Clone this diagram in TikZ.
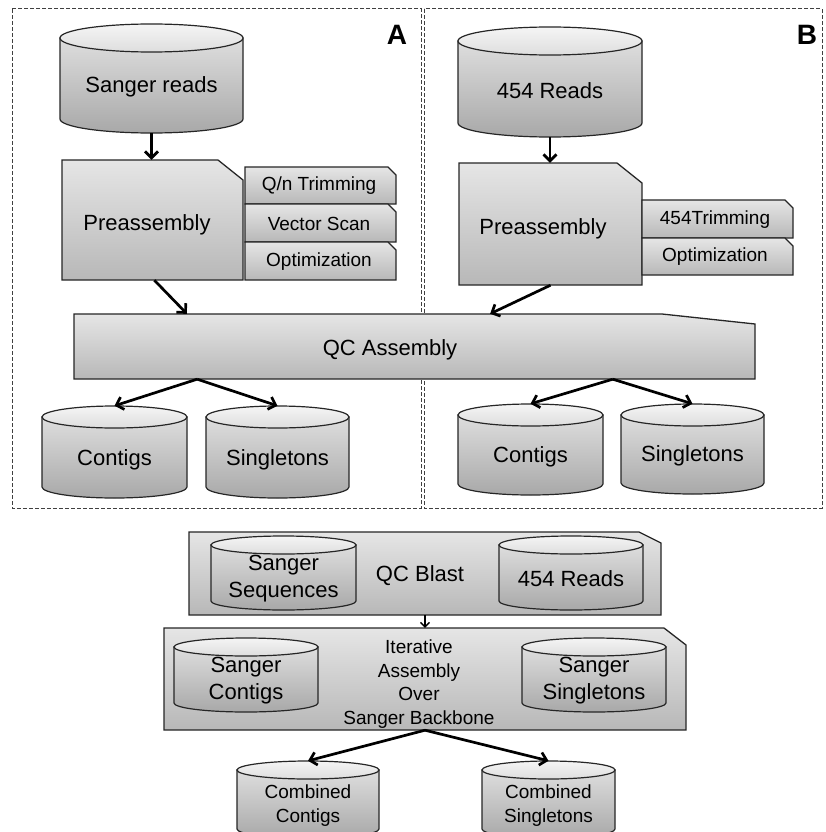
\documentclass[tikz,border=0pt]{standalone}
\usepackage{fontspec}
\setmainfont{Liberation Sans}
\usetikzlibrary{arrows.meta,calc}
\tikzset{
 every node/.style={inner sep=0pt, align=center, text=black},
 bigtxt/.style={font=\fontsize{22}{27}\selectfont},
 midtxt/.style={font=\fontsize{19}{23.5}\selectfont},
 paneltxt/.style={font=\fontsize{28}{30}\selectfont\bfseries},
 frame/.style={draw=black!75, line width=1pt, dash pattern=on 4pt off 2pt},
 boxfill/.style={draw=black!85, line width=1.3pt, top color=black!10, bottom color=black!28},
 cylbody/.style={draw=black!85, line width=1.2pt, top color=black!13, bottom color=black!34},
 cyltop/.style={draw=black!85, line width=1.2pt, top color=black!4, bottom color=black!13},
 arr/.style={line width=2.7pt, -{Straight Barb[length=6.5pt,width=13pt]}},
 smallarr/.style={line width=1.3pt, -{Straight Barb[length=4.5pt,width=9pt]}}
}
% cylinder: name, x1, ytop, x2, ybottom, ry, text style, text
\newcommand\dbcyl[8]{%
  \pgfmathsetmacro\cylcx{(#2+#4)/2}%
  \pgfmathsetmacro\cylrx{(#4-#2)/2}%
  \pgfmathsetmacro\cylw{#4-#2}%
  \pgfmathsetmacro\cylh{#5-#3}%
  \pgfmathsetmacro\cylty{#3+0.58*(#5-#3)}%
  \path[cylbody] (#2,#3+#6) -- (#2,#5-#6) arc[start angle=180,end angle=360,x radius=\cylrx pt,y radius=#6pt] -- (#4,#3+#6) -- cycle;
  \path[cyltop] (\cylcx,#3+#6) ellipse[x radius=\cylrx pt,y radius=#6pt];
  \node[minimum width=\cylw pt, minimum height=\cylh pt] (#1) at (\cylcx,{(#3+#5)/2}) {};
  \node[#7] (#1-t) at (\cylcx,\cylty) {#8};
}
% box with cut corner: name, x1, y1, x2, y2, cutx, cuty
\newcommand\cutbox[7]{%
  \path[boxfill] (#2,#3) -- (#4-#6,#3) -- (#4,#3+#7) -- (#4,#5) -- (#2,#5) -- cycle;
  \pgfmathsetmacro\cbw{#4-#2}%
  \pgfmathsetmacro\cbh{#5-#3}%
  \node[minimum width=\cbw pt, minimum height=\cbh pt] (#1) at ({(#2+#4)/2},{(#3+#5)/2}) {};
}
\begin{document}
\begin{tikzpicture}[x=1pt,y=-1pt]
\useasboundingbox (0,0) rectangle (825,832);
\fill[white] (0,0) rectangle (825,832);

% panel frames
\draw[frame] (12,9) rectangle (421,508);
\draw[frame] (424,9) rectangle (822,508);
\node[paneltxt] (lblA) at (397,35) {A};
\node[paneltxt] (lblB) at (807,35) {B};

% panel A
\dbcyl{sr}{60}{24}{243}{133}{14}{bigtxt}{Sanger reads}
\cutbox{preA}{62}{160}{243}{280}{25}{20}
\node[bigtxt] (preA-t) at (147,225) {Preassembly};
\cutbox{tA1}{245}{167}{396}{204}{8}{8}
\node[midtxt] (tA1-t) at (319,186) {Q/n Trimming};
\cutbox{tA2}{245}{204}{396}{242}{8}{8}
\node[midtxt] (tA2-t) at (319,224) {Vector Scan};
\cutbox{tA3}{245}{242}{396}{280}{8}{8}
\node[midtxt] (tA3-t) at (319,262) {Optimization};

% panel B
\dbcyl{rb}{458}{27}{642}{137}{14}{bigtxt}{454 Reads}
\cutbox{preB}{459}{163}{642}{285}{25}{20}
\node[bigtxt] (preB-t) at (543,229) {Preassembly};
\cutbox{tB1}{642}{200}{793}{238}{8}{8}
\node[midtxt] (tB1-t) at (715,220) {454Trimming};
\cutbox{tB2}{642}{238}{793}{275}{8}{8}
\node[midtxt] (tB2-t) at (715,257) {Optimization};

% QC assembly
\cutbox{qc}{74}{314}{755}{379}{93}{10}
\node[bigtxt] (qc-t) at (390,350) {QC Assembly};

\dbcyl{contA}{42}{406}{187}{498}{11}{bigtxt}{Contigs}
\dbcyl{singA}{206}{406}{349}{498}{11}{bigtxt}{Singletons}
\dbcyl{contB}{458}{404}{603}{495}{11}{bigtxt}{Contigs}
\dbcyl{singB}{621}{404}{764}{494}{11}{bigtxt}{Singletons}

% bottom part
\cutbox{blast}{189}{532}{661}{615}{22}{11}
\node[bigtxt] (blast-t) at (420,576) {QC Blast};
\dbcyl{sseq}{211}{536}{356}{610}{9}{bigtxt}{Sanger\\Sequences}
\dbcyl{rc}{499}{536}{643}{610}{9}{bigtxt}{454 Reads}

\cutbox{iter}{164}{628}{686}{730}{22}{17}
\node[midtxt] (iter-t) at (419,684) {Iterative\\Assembly\\Over\\Sanger Backbone};
\dbcyl{scont}{174}{638}{318}{712}{9}{bigtxt}{Sanger\\Contigs}
\dbcyl{ssing}{522}{638}{666}{712}{9}{bigtxt}{Sanger\\Singletons}

\dbcyl{combC}{237}{761}{379}{838}{9}{midtxt}{Combined\\Contigs}
\dbcyl{combS}{482}{761}{615}{838}{9}{midtxt}{Combined\\Singletons}

% connectors
\draw[arr] (sr.south) -- (sr.south |- preA.north);
\draw[arr] (rb.south) -- (rb.south |- preB.north);
\draw[arr] ($(preA.south west)!0.51!(preA.south east)$) -- ($(qc.north west)!0.166!(qc.north east)$);
\draw[arr] (preB.south) -- ($(qc.north west)!0.611!(qc.north east)$);
\draw[arr] ($(qc.south west)!0.181!(qc.south east)$) -- (contA.north);
\draw[arr] ($(qc.south west)!0.181!(qc.south east)$) -- (singA.north);
\draw[arr] ($(qc.south west)!0.791!(qc.south east)$) -- (contB.north);
\draw[arr] ($(qc.south west)!0.791!(qc.south east)$) -- (singB.north);
\draw[smallarr] (blast.south) -- (iter.north);
\draw[arr] (iter.south) -- (combC.north);
\draw[arr] (iter.south) -- (combS.north);
\end{tikzpicture}
\end{document}
